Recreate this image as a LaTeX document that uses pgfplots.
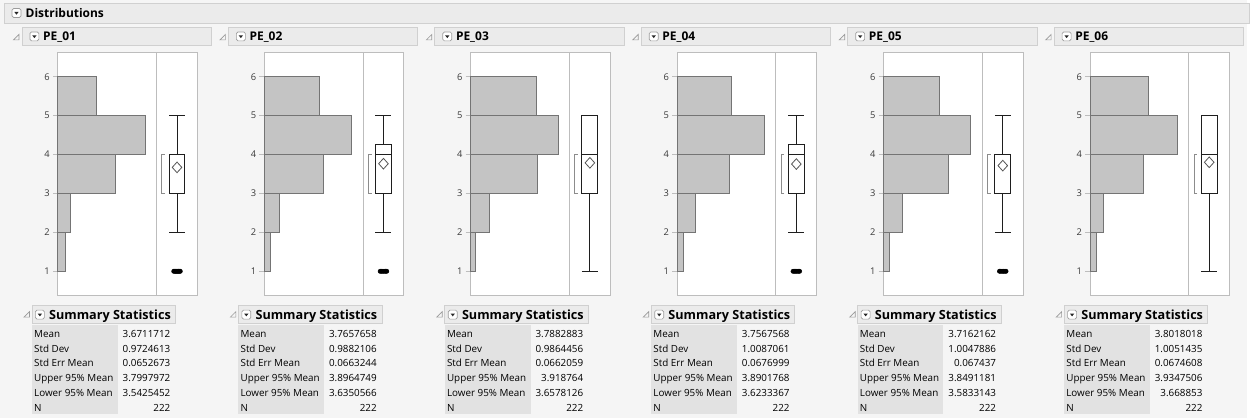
\documentclass[border=0pt]{standalone}
\usepackage{pgfplots}
\pgfplotsset{compat=1.18}
\usepgfplotslibrary{statistics}
\usepackage{fontspec}
\setmainfont{Open Sans}

\definecolor{pagebg}{HTML}{F5F5F5}
\definecolor{hdrfill}{HTML}{EBEBEB}
\definecolor{hdrline}{HTML}{D0D0D0}
\definecolor{frameline}{HTML}{BDBDBD}
\definecolor{histfill}{HTML}{C4C4C4}
\definecolor{histline}{HTML}{747474}
\definecolor{labfill}{HTML}{E2E2E2}
\definecolor{ticklab}{HTML}{3A3A3A}
\definecolor{tricol}{HTML}{9A9A9A}
\definecolor{iconline}{HTML}{9C9C9C}
\definecolor{boxcol}{HTML}{1E1E1E}
\definecolor{diamcol}{HTML}{555555}
\definecolor{brackcol}{HTML}{8C8C8C}

\pgfplotsset{
  panelbase/.style={scale only axis, height=182.25pt, ymin=0.385, ymax=6.615,
    axis line style={frameline, line width=0.75pt},
    axis background/.style={fill=white}, clip=false},
  histax/.style={panelbase, width=74.25pt, xmin=0, xtick=\empty,
    ytick={1,2,3,4,5,6}, tick align=outside, tick pos=left,
    major tick length=3.75pt, major tick style={frameline, line width=0.75pt},
    yticklabel style={font=\fontsize{7}{8}\selectfont, text=ticklab, inner sep=2.2pt},
    /pgf/number format/assume math mode=true},
  boxax/.style={panelbase, width=30.75pt, xmin=-1, xmax=1, xtick=\empty, ytick=\empty},
}

\newcommand{\dropicon}[2]{%
  \draw[iconline, fill=white, line width=0.5pt, rounded corners=1.2pt] (#1,#2) rectangle ++(9,9);
  \fill[black!85] (#1+2.3,#2+3.4) -- (#1+6.7,#2+3.4) -- (#1+4.5,#2+6.2) -- cycle;}

\newcommand{\panel}[7]{%
  \begin{scope}[shift={(#1,0)}]
    \draw[tricol, line width=0.5pt] (-39,34.5) -- (-39,40) -- (-44.5,40) -- cycle;
    \draw[hdrline, fill=hdrfill, line width=0.6pt] (-36,27) rectangle (154,46);
    \dropicon{-28}{32}
    \node[anchor=base west, inner sep=0, font=\fontsize{9}{10}\selectfont\bfseries] at (-15,40.6) {#2};
  \end{scope}
  \begin{axis}[histax, at={(#1*0.75pt,-39.75pt)}, anchor=north west, xmax=#4]
    \addplot[xbar, bar width=1, bar shift=0pt, fill=histfill, draw=histline, line width=0.75pt] coordinates {#3};
  \end{axis}
  \begin{axis}[boxax, at={(#1*0.75pt+74.25pt,-39.75pt)}, anchor=north west]
    \addplot[boxcol, line width=0.75pt, solid, mark=none,
      boxplot prepared={#5, draw position=0, box extend=0.78, whisker extend=0.78, draw direction=y}]
      coordinates {};
    \addplot[brackcol, line width=0.75pt, mark=none] coordinates {(-0.58,3)(-0.74,3)(-0.74,4)(-0.58,4)};
    \addplot[only marks, mark=diamond, mark size=4pt,
      mark options={draw=diamcol, fill=white, line width=0.6pt, xscale=1.2}] coordinates {(0,#6)};
    \addplot[only marks, mark=*, mark size=1.6pt, mark options={draw=black, fill=black}] coordinates {#7};
  \end{axis}}

\newcommand{\stats}[7]{%
  \begin{scope}[shift={(#1,0)}]
    \draw[tricol, line width=0.5pt] (-28.5,312.5) -- (-28.5,318) -- (-34,318) -- cycle;
    \draw[hdrline, fill=hdrfill, line width=0.6pt] (-26,306.5) rectangle (118,324.3);
    \dropicon{-22.5}{311}
    \node[anchor=base west, inner sep=0, font=\fontsize{9.5}{11}\selectfont\bfseries] at (-9,320) {Summary Statistics};
    \fill[labfill] (-26,326) rectangle (60,415.5);
    \begin{scope}[every node/.style={inner sep=0, font=\fontsize{7.4}{9}\selectfont}]
      \node[anchor=base west] at (-24,338.3) {Mean};
      \node[anchor=base west] at (-24,353.1) {Std Dev};
      \node[anchor=base west] at (-24,367.9) {Std Err Mean};
      \node[anchor=base west] at (-24,382.7) {Upper 95\% Mean};
      \node[anchor=base west] at (-24,397.5) {Lower 95\% Mean};
      \node[anchor=base west] at (-24,412.3) {N};
      \node[anchor=base east] at (113,338.3) {#2};
      \node[anchor=base east] at (113,353.1) {#3};
      \node[anchor=base east] at (113,367.9) {#4};
      \node[anchor=base east] at (113,382.7) {#5};
      \node[anchor=base east] at (113,397.5) {#6};
      \node[anchor=base east] at (113,412.3) {#7};
    \end{scope}
  \end{scope}}

\begin{document}
\begin{tikzpicture}[x=0.75pt,y=-0.75pt]
\fill[pagebg] (0,0) rectangle (1250,419);
\draw[hdrline, fill=hdrfill, line width=0.6pt] (4,3) rectangle (1253,23);
\dropicon{12}{8.5}
\node[anchor=base west, inner sep=0, font=\fontsize{9}{10}\selectfont\bfseries] at (25.5,18) {Distributions};

\panel{58}{PE\_01}{(8,1.5)(14,2.5)(63,3.5)(95,4.5)(42,5.5)}{107.4}
  {lower whisker=2, lower quartile=3, median=4, upper quartile=4, upper whisker=5}{3.6711712}
  {(-0.16,1)(-0.11,1)(-0.07,1)(-0.02,1)(0.02,1)(0.07,1)(0.11,1)(0.16,1)}
\panel{265}{PE\_02}{(6,1.5)(15,2.5)(59,3.5)(87,4.5)(55,5.5)}{98.3}
  {lower whisker=2, lower quartile=3, median=4, upper quartile=4.25, upper whisker=5}{3.7657658}
  {(-0.16,1)(-0.1,1)(-0.03,1)(0.03,1)(0.1,1)(0.16,1)}
\panel{472}{PE\_03}{(4,1.5)(17,2.5)(61,3.5)(80,4.5)(60,5.5)}{90.4}
  {lower whisker=1, lower quartile=3, median=4, upper quartile=5, upper whisker=5}{3.7882883}
  {}
\panel{679}{PE\_04}{(6,1.5)(19,2.5)(53,3.5)(89,4.5)(55,5.5)}{100.6}
  {lower whisker=2, lower quartile=3, median=4, upper quartile=4.25, upper whisker=5}{3.7567568}
  {(-0.16,1)(-0.1,1)(-0.03,1)(0.03,1)(0.1,1)(0.16,1)}
\panel{886}{PE\_05}{(6,1.5)(18,2.5)(62,3.5)(83,4.5)(53,5.5)}{93.8}
  {lower whisker=2, lower quartile=3, median=4, upper quartile=4, upper whisker=5}{3.7162162}
  {(-0.16,1)(-0.1,1)(-0.03,1)(0.03,1)(0.1,1)(0.16,1)}
\panel{1093}{PE\_06}{(7,1.5)(14,2.5)(54,3.5)(88,4.5)(59,5.5)}{99.5}
  {lower whisker=1, lower quartile=3, median=4, upper quartile=5, upper whisker=5}{3.8018018}
  {}

\stats{58}{3.6711712}{0.9724613}{0.0652673}{3.7997972}{3.5425452}{222}
\stats{265}{3.7657658}{0.9882106}{0.0663244}{3.8964749}{3.6350566}{222}
\stats{472}{3.7882883}{0.9864456}{0.0662059}{3.918764}{3.6578126}{222}
\stats{679}{3.7567568}{1.0087061}{0.0676999}{3.8901768}{3.6233367}{222}
\stats{886}{3.7162162}{1.0047886}{0.067437}{3.8491181}{3.5833143}{222}
\stats{1093}{3.8018018}{1.0051435}{0.0674608}{3.9347506}{3.668853}{222}
\end{tikzpicture}
\end{document}
